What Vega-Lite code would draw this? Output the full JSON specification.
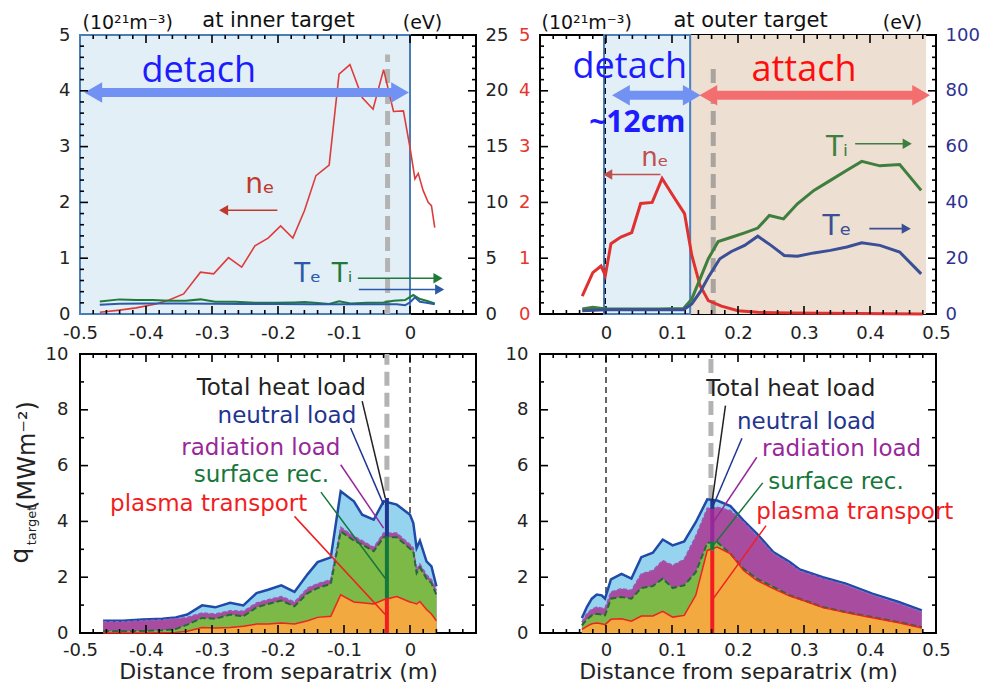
{
"$schema":"https://vega.github.io/schema/vega-lite/v6.json",
"background":"white",
"padding":{"left":6,"top":8,"right":5,"bottom":5},
"columns":2,
"bounds":"flush",
"spacing":{"row":40,"column":64},
"resolve":{"scale":{"color":"independent"}},
"config":{
 "font":"DejaVu Sans",
 "view":{"stroke":"#000000","strokeWidth":2},
 "axis":{"domain":false,"grid":false,"ticks":false,"offset":0,"labelFontSize":18,"labelColor":"#222222","labelFlush":false,"labelOverlap":false,"labelBound":false,"titleFontWeight":"normal","titleColor":"#111111","labelPadding":10}
},
"datasets":{
 "xt_l":[{"v":-0.48,"k":"minor"},{"v":-0.46,"k":"minor"},{"v":-0.44,"k":"minor"},{"v":-0.42,"k":"minor"},{"v":-0.4,"k":"major"},{"v":-0.38,"k":"minor"},{"v":-0.36,"k":"minor"},{"v":-0.34,"k":"minor"},{"v":-0.32,"k":"minor"},{"v":-0.3,"k":"major"},{"v":-0.28,"k":"minor"},{"v":-0.26,"k":"minor"},{"v":-0.24,"k":"minor"},{"v":-0.22,"k":"minor"},{"v":-0.2,"k":"major"},{"v":-0.18,"k":"minor"},{"v":-0.16,"k":"minor"},{"v":-0.14,"k":"minor"},{"v":-0.12,"k":"minor"},{"v":-0.1,"k":"major"},{"v":-0.08,"k":"minor"},{"v":-0.06,"k":"minor"},{"v":-0.04,"k":"minor"},{"v":-0.02,"k":"minor"},{"v":0,"k":"major"},{"v":0.02,"k":"minor"},{"v":0.04,"k":"minor"},{"v":0.06,"k":"minor"},{"v":0.08,"k":"minor"}],
 "xt_r":[{"v":-0.08,"k":"minor"},{"v":-0.06,"k":"minor"},{"v":-0.04,"k":"minor"},{"v":-0.02,"k":"minor"},{"v":0,"k":"major"},{"v":0.02,"k":"minor"},{"v":0.04,"k":"minor"},{"v":0.06,"k":"minor"},{"v":0.08,"k":"minor"},{"v":0.1,"k":"major"},{"v":0.12,"k":"minor"},{"v":0.14,"k":"minor"},{"v":0.16,"k":"minor"},{"v":0.18,"k":"minor"},{"v":0.2,"k":"major"},{"v":0.22,"k":"minor"},{"v":0.24,"k":"minor"},{"v":0.26,"k":"minor"},{"v":0.28,"k":"minor"},{"v":0.3,"k":"major"},{"v":0.32,"k":"minor"},{"v":0.34,"k":"minor"},{"v":0.36,"k":"minor"},{"v":0.38,"k":"minor"},{"v":0.4,"k":"major"},{"v":0.42,"k":"minor"},{"v":0.44,"k":"minor"},{"v":0.46,"k":"minor"},{"v":0.48,"k":"minor"}],
 "yt5":[{"v":0.2,"k":"minor"},{"v":0.4,"k":"minor"},{"v":0.6,"k":"minor"},{"v":0.8,"k":"minor"},{"v":1,"k":"major"},{"v":1.2,"k":"minor"},{"v":1.4,"k":"minor"},{"v":1.6,"k":"minor"},{"v":1.8,"k":"minor"},{"v":2,"k":"major"},{"v":2.2,"k":"minor"},{"v":2.4,"k":"minor"},{"v":2.6,"k":"minor"},{"v":2.8,"k":"minor"},{"v":3,"k":"major"},{"v":3.2,"k":"minor"},{"v":3.4,"k":"minor"},{"v":3.6,"k":"minor"},{"v":3.8,"k":"minor"},{"v":4,"k":"major"},{"v":4.2,"k":"minor"},{"v":4.4,"k":"minor"},{"v":4.6,"k":"minor"},{"v":4.8,"k":"minor"}],
 "yt10":[{"v":1,"k":"minor"},{"v":2,"k":"major"},{"v":3,"k":"minor"},{"v":4,"k":"major"},{"v":5,"k":"minor"},{"v":6,"k":"major"},{"v":7,"k":"minor"},{"v":8,"k":"major"},{"v":9,"k":"minor"}],
 "tl_ne":[{"x":-0.47,"ne":0.03},{"x":-0.44,"ne":0.07},{"x":-0.415,"ne":0.11},{"x":-0.385,"ne":0.18},{"x":-0.365,"ne":0.25},{"x":-0.343,"ne":0.36},{"x":-0.3175,"ne":0.75},{"x":-0.2975,"ne":0.72},{"x":-0.275,"ne":1.01},{"x":-0.255,"ne":0.84},{"x":-0.235,"ne":1.22},{"x":-0.215,"ne":1.36},{"x":-0.196,"ne":1.58},{"x":-0.1775,"ne":1.36},{"x":-0.16,"ne":1.85},{"x":-0.1425,"ne":2.48},{"x":-0.1225,"ne":2.67},{"x":-0.1075,"ne":4.3},{"x":-0.091,"ne":4.47},{"x":-0.0725,"ne":3.88},{"x":-0.056,"ne":3.67},{"x":-0.04,"ne":4.38},{"x":-0.025,"ne":3.63},{"x":-0.01,"ne":3.64},{"x":0,"ne":2.98},{"x":0.0075,"ne":2.42},{"x":0.0125,"ne":2.52},{"x":0.02,"ne":2.21},{"x":0.0275,"ne":2.0},{"x":0.0325,"ne":1.94},{"x":0.0375,"ne":1.55}],
 "tl_T":[{"s":"Ti","x":-0.47,"T":1.13},{"s":"Ti","x":-0.44,"T":1.31},{"s":"Ti","x":-0.415,"T":1.25},{"s":"Ti","x":-0.39,"T":1.25},{"s":"Ti","x":-0.365,"T":1.19},{"s":"Ti","x":-0.34,"T":1.19},{"s":"Ti","x":-0.3175,"T":1.31},{"s":"Ti","x":-0.295,"T":1.1},{"s":"Ti","x":-0.265,"T":1.1},{"s":"Ti","x":-0.235,"T":1.01},{"s":"Ti","x":-0.205,"T":1.01},{"s":"Ti","x":-0.175,"T":1.04},{"s":"Ti","x":-0.16,"T":1.07},{"s":"Ti","x":-0.14,"T":0.98},{"s":"Ti","x":-0.1225,"T":0.9},{"s":"Ti","x":-0.1075,"T":1.13},{"s":"Ti","x":-0.09,"T":0.95},{"s":"Ti","x":-0.065,"T":1.01},{"s":"Ti","x":-0.04,"T":1.04},{"s":"Ti","x":-0.025,"T":1.19},{"s":"Ti","x":-0.0075,"T":1.25},{"s":"Ti","x":0.005,"T":1.7},{"s":"Ti","x":0.015,"T":1.34},{"s":"Ti","x":0.025,"T":1.19},{"s":"Ti","x":0.0375,"T":0.95},
  {"s":"Te","x":-0.47,"T":0.84},{"s":"Te","x":-0.44,"T":0.92},{"s":"Te","x":-0.4,"T":0.95},{"s":"Te","x":-0.35,"T":0.95},{"s":"Te","x":-0.3,"T":0.92},{"s":"Te","x":-0.25,"T":0.9},{"s":"Te","x":-0.2,"T":0.9},{"s":"Te","x":-0.15,"T":0.87},{"s":"Te","x":-0.1,"T":0.87},{"s":"Te","x":-0.05,"T":0.87},{"s":"Te","x":-0.02,"T":0.87},{"s":"Te","x":-0.0075,"T":0.78},{"s":"Te","x":0,"T":1.04},{"s":"Te","x":0.0075,"T":1.49},{"s":"Te","x":0.015,"T":1.1},{"s":"Te","x":0.025,"T":1.01},{"s":"Te","x":0.0375,"T":0.87}],
 "tl_regions":[{"id":"detach","x1":-0.5,"x2":0}],
 "tl_vlines":[{"id":"gray","x":-0.034,"y1":0,"y2":4.65}],
 "tl_arrows":[{"id":"detach","x1":-0.495,"x2":-0.0075,"y":3.97},{"id":"ne","x1":-0.29,"x2":-0.201,"y":1.86},{"id":"Ti","x1":-0.079,"x2":0.05,"y":0.64},{"id":"Te","x1":-0.0775,"x2":0.0525,"y":0.44}],
 "tl_text":[{"id":"detach","label":"detach","x":-0.32,"y":4.15},{"id":"ne","label":"nₑ","x":-0.2275,"y":2.16},{"id":"Te","label":"Tₑ","x":-0.155,"y":0.57},{"id":"Ti","label":"Tᵢ","x":-0.103,"y":0.57}],
 "tr_ne":[{"x":-0.036,"ne":0.32},{"x":-0.02,"ne":0.74},{"x":-0.0075,"ne":0.86},{"x":-0.001,"ne":0.69},{"x":0.0075,"ne":1.26},{"x":0.0225,"ne":1.38},{"x":0.039,"ne":1.46},{"x":0.0525,"ne":1.98},{"x":0.07,"ne":2.0},{"x":0.085,"ne":2.43},{"x":0.1025,"ne":2.1},{"x":0.119,"ne":1.8},{"x":0.13,"ne":1.05},{"x":0.1425,"ne":0.51},{"x":0.155,"ne":0.24},{"x":0.175,"ne":0.14},{"x":0.2,"ne":0.06},{"x":0.23,"ne":0.03},{"x":0.28,"ne":0.02},{"x":0.38,"ne":0.01},{"x":0.48,"ne":0.0}],
 "tr_T":[{"s":"Ti","x":-0.036,"T":1.8},{"s":"Ti","x":-0.02,"T":2.4},{"s":"Ti","x":0,"T":1.8},{"s":"Ti","x":0.03,"T":1.8},{"s":"Ti","x":0.08,"T":1.8},{"s":"Ti","x":0.1175,"T":2.0},{"s":"Ti","x":0.13,"T":5.4},{"s":"Ti","x":0.1425,"T":12.6},{"s":"Ti","x":0.155,"T":19.8},{"s":"Ti","x":0.17,"T":26.0},{"s":"Ti","x":0.19,"T":27.5},{"s":"Ti","x":0.21,"T":29.1},{"s":"Ti","x":0.23,"T":30.8},{"s":"Ti","x":0.2475,"T":35.3},{"s":"Ti","x":0.269,"T":34.1},{"s":"Ti","x":0.29,"T":39.5},{"s":"Ti","x":0.315,"T":44.3},{"s":"Ti","x":0.34,"T":47.9},{"s":"Ti","x":0.365,"T":51.5},{"s":"Ti","x":0.3875,"T":54.7},{"s":"Ti","x":0.415,"T":53.1},{"s":"Ti","x":0.445,"T":53.6},{"s":"Ti","x":0.4775,"T":44.3},
  {"s":"Te","x":-0.036,"T":1.2},{"s":"Te","x":0,"T":1.5},{"s":"Te","x":0.1175,"T":1.5},{"s":"Te","x":0.13,"T":3.6},{"s":"Te","x":0.1425,"T":7.8},{"s":"Te","x":0.155,"T":13.2},{"s":"Te","x":0.1725,"T":19.8},{"s":"Te","x":0.19,"T":22.4},{"s":"Te","x":0.21,"T":24.6},{"s":"Te","x":0.23,"T":27.9},{"s":"Te","x":0.25,"T":24.6},{"s":"Te","x":0.27,"T":21.0},{"s":"Te","x":0.29,"T":20.7},{"s":"Te","x":0.315,"T":21.9},{"s":"Te","x":0.34,"T":22.8},{"s":"Te","x":0.365,"T":24.0},{"s":"Te","x":0.3875,"T":25.5},{"s":"Te","x":0.415,"T":24.6},{"s":"Te","x":0.445,"T":22.2},{"s":"Te","x":0.4775,"T":14.4}],
 "tr_regions":[{"id":"attach","x1":0.1275,"x2":0.485},{"id":"detach","x1":-0.003,"x2":0.1275}],
 "tr_vlines":[{"id":"sep","x":-0.001,"y1":0,"y2":5},{"id":"gray","x":0.1625,"y1":0,"y2":4.43}],
 "tr_arrows":[{"id":"detach","x1":0.0075,"x2":0.1375,"y":3.92},{"id":"attach","x1":0.14,"x2":0.485,"y":3.92},{"id":"ne","x1":-0.005,"x2":0.0825,"y":2.5},{"id":"Ti","x1":0.3775,"x2":0.464,"y":3.05},{"id":"Te","x1":0.399,"x2":0.4625,"y":1.53}],
 "tr_text":[{"id":"detach","label":"detach","x":0.036,"y":4.23},{"id":"attach","label":"attach","x":0.3,"y":4.17},{"id":"width","label":"~12cm","x":0.0475,"y":3.27},{"id":"ne","label":"nₑ","x":0.074,"y":2.66},{"id":"Ti","label":"Tᵢ","x":0.35,"y":2.83},{"id":"Te","label":"Tₑ","x":0.35,"y":1.41}],
 "bl":[{"x":-0.465,"plasma":0.0,"surf":0.06,"rad":0.4,"total":0.44},{"x":-0.435,"plasma":0.0,"surf":0.06,"rad":0.4,"total":0.44},{"x":-0.405,"plasma":0.0,"surf":0.07,"rad":0.44,"total":0.48},{"x":-0.375,"plasma":0.01,"surf":0.1,"rad":0.47,"total":0.51},{"x":-0.355,"plasma":0.02,"surf":0.14,"rad":0.51,"total":0.56},{"x":-0.3375,"plasma":0.06,"surf":0.3,"rad":0.56,"total":0.66},{"x":-0.315,"plasma":0.2,"surf":0.54,"rad":0.72,"total":0.99},{"x":-0.295,"plasma":0.18,"surf":0.51,"rad":0.68,"total":0.92},{"x":-0.2725,"plasma":0.2,"surf":0.66,"rad":0.8,"total":1.08},{"x":-0.2525,"plasma":0.24,"surf":0.6,"rad":0.78,"total":0.99},{"x":-0.2325,"plasma":0.32,"surf":0.92,"rad":1.08,"total":1.43},{"x":-0.215,"plasma":0.32,"surf":1.04,"rad":1.19,"total":1.55},{"x":-0.195,"plasma":0.36,"surf":1.16,"rad":1.31,"total":1.71},{"x":-0.175,"plasma":0.32,"surf":0.96,"rad":1.11,"total":1.47},{"x":-0.155,"plasma":0.44,"surf":1.43,"rad":1.61,"total":2.11},{"x":-0.14,"plasma":0.56,"surf":1.61,"rad":1.77,"total":2.54},{"x":-0.12,"plasma":0.6,"surf":1.76,"rad":1.91,"total":2.71},{"x":-0.105,"plasma":1.37,"surf":3.64,"rad":3.79,"total":5.08},{"x":-0.085,"plasma":1.11,"surf":3.31,"rad":3.46,"total":4.72},{"x":-0.0725,"plasma":1.08,"surf":3.17,"rad":3.31,"total":4.24},{"x":-0.055,"plasma":1.04,"surf":2.93,"rad":3.07,"total":4.06},{"x":-0.04,"plasma":1.19,"surf":3.43,"rad":3.58,"total":4.72},{"x":-0.02,"plasma":1.31,"surf":3.43,"rad":3.58,"total":4.6},{"x":0.0,"plasma":1.11,"surf":3.02,"rad":3.17,"total":4.24},{"x":0.005,"plasma":1.08,"surf":2.93,"rad":3.05,"total":3.94},{"x":0.01,"plasma":1.04,"surf":2.15,"rad":2.27,"total":3.05},{"x":0.015,"plasma":1.13,"surf":2.35,"rad":2.47,"total":3.31},{"x":0.025,"plasma":0.84,"surf":1.95,"rad":2.09,"total":2.57},{"x":0.0325,"plasma":0.68,"surf":1.79,"rad":1.91,"total":2.39},{"x":0.04,"plasma":0.44,"surf":1.37,"rad":1.55,"total":1.67}],
 "bl_vlines":[{"id":"sep","x":0,"y1":0,"y2":10},{"id":"gray","x":-0.035,"y1":5.1,"y2":10}],
 "bl_bars":[{"id":"plasma","x":-0.035,"y1":0,"y2":1.25},{"id":"surface","x":-0.035,"y1":1.25,"y2":3.46},{"id":"neutral","x":-0.035,"y1":3.46,"y2":4.84}],
 "bl_lead":[{"id":"total","x1":-0.0725,"y1":8.31,"x2":-0.0375,"y2":4.84},{"id":"neutral","x1":-0.09,"y1":7.35,"x2":-0.04,"y2":4.6},{"id":"radiation","x1":-0.105,"y1":6.03,"x2":-0.04,"y2":3.76},{"id":"surface","x1":-0.135,"y1":5.05,"x2":-0.035,"y2":1.88},{"id":"plasma","x1":-0.175,"y1":4.18,"x2":-0.0375,"y2":0.66}],
 "bl_text":[{"id":"total","label":"Total heat load","x":-0.195,"y":8.52},{"id":"neutral","label":"neutral load","x":-0.1865,"y":7.53},{"id":"radiation","label":"radiation load","x":-0.226,"y":6.37},{"id":"surface","label":"surface rec.","x":-0.225,"y":5.41},{"id":"plasma","label":"plasma transport","x":-0.305,"y":4.38}],
 "br":[{"x":-0.0365,"plasma":0.13,"surf":0.27,"rad":0.39,"total":0.54},{"x":-0.029,"plasma":0.24,"surf":0.49,"rad":0.69,"total":0.93},{"x":-0.0215,"plasma":0.33,"surf":0.63,"rad":0.85,"total":1.23},{"x":-0.014,"plasma":0.36,"surf":0.69,"rad":0.93,"total":1.38},{"x":-0.0065,"plasma":0.33,"surf":0.66,"rad":0.89,"total":1.35},{"x":-0.0015,"plasma":0.3,"surf":0.63,"rad":0.89,"total":1.23},{"x":0.0075,"plasma":0.49,"surf":1.23,"rad":1.47,"total":1.92},{"x":0.0235,"plasma":0.51,"surf":1.29,"rad":1.59,"total":2.12},{"x":0.0385,"plasma":0.42,"surf":1.23,"rad":1.53,"total":1.95},{"x":0.0535,"plasma":0.61,"surf":1.61,"rad":2.12,"total":2.72},{"x":0.071,"plasma":0.61,"surf":1.68,"rad":2.24,"total":2.88},{"x":0.086,"plasma":0.78,"surf":1.95,"rad":2.6,"total":3.35},{"x":0.101,"plasma":0.57,"surf":1.61,"rad":2.42,"total":3.14},{"x":0.1185,"plasma":0.63,"surf":1.71,"rad":2.64,"total":3.28},{"x":0.136,"plasma":1.35,"surf":2.18,"rad":3.47,"total":3.97},{"x":0.1535,"plasma":2.96,"surf":3.23,"rad":4.47,"total":4.79},{"x":0.1685,"plasma":3.08,"surf":3.26,"rad":4.51,"total":4.75},{"x":0.1885,"plasma":2.84,"surf":2.84,"rad":4.39,"total":4.55},{"x":0.2085,"plasma":2.24,"surf":2.3,"rad":3.97,"total":4.03},{"x":0.2285,"plasma":1.89,"surf":1.95,"rad":3.47,"total":3.56},{"x":0.2535,"plasma":1.59,"surf":1.65,"rad":2.84,"total":2.9},{"x":0.2785,"plasma":1.32,"surf":1.35,"rad":2.48,"total":2.54},{"x":0.2935,"plasma":1.21,"surf":1.23,"rad":2.22,"total":2.28},{"x":0.3285,"plasma":0.91,"surf":0.93,"rad":1.95,"total":2.0},{"x":0.3635,"plasma":0.73,"surf":0.75,"rad":1.71,"total":1.77},{"x":0.4035,"plasma":0.55,"surf":0.57,"rad":1.35,"total":1.41},{"x":0.4435,"plasma":0.37,"surf":0.39,"rad":1.05,"total":1.11},{"x":0.4785,"plasma":0.18,"surf":0.21,"rad":0.75,"total":0.81}],
 "br_vlines":[{"id":"sep","x":0,"y1":0,"y2":10},{"id":"gray","x":0.159,"y1":4.8,"y2":10}],
 "br_bars":[{"id":"plasma","x":0.161,"y1":0,"y2":2.96},{"id":"surface","x":0.161,"y1":2.96,"y2":3.28},{"id":"radiation","x":0.161,"y1":3.28,"y2":4.45},{"id":"neutral","x":0.161,"y1":4.45,"y2":4.8}],
 "br_lead":[{"id":"total","x1":0.181,"y1":8.15,"x2":0.161,"y2":4.75},{"id":"neutral","x1":0.206,"y1":6.98,"x2":0.1625,"y2":4.57},{"id":"radiation","x1":0.2285,"y1":6.3,"x2":0.1625,"y2":3.97},{"id":"surface","x1":0.2375,"y1":5.38,"x2":0.1625,"y2":3.14},{"id":"plasma","x1":0.2425,"y1":3.85,"x2":0.1625,"y2":1.23}],
 "br_text":[{"id":"total","label":"Total heat load","x":0.28,"y":8.51},{"id":"neutral","label":"neutral load","x":0.3035,"y":7.31},{"id":"radiation","label":"radiation load","x":0.357,"y":6.36},{"id":"surface","label":"surface rec.","x":0.3485,"y":5.17},{"id":"plasma","label":"plasma transport","x":0.377,"y":4.09}]
},
"concat":[
 {
  "width":396,"height":279,
  "layer":[
   {"layer":[
    {"data":{"name":"tl_regions"},"mark":{"type":"rect","fill":"#e2eff7","stroke":"#4a7db8","strokeWidth":2},
     "encoding":{"x":{"field":"x1","type":"quantitative","scale":{"domain":[-0.5,0.1]},"axis":null},"x2":{"field":"x2"},"y":{"datum":0,"type":"quantitative","scale":{"domain":[0,5]},"axis":null},"y2":{"datum":5}}},
    {"data":{"name":"tl_vlines"},"mark":{"type":"rule","color":"#b3b3b3","strokeWidth":5,"strokeDash":[14,7]},
     "encoding":{"x":{"field":"x","type":"quantitative","scale":{"domain":[-0.5,0.1]},"axis":null},"y":{"field":"y1","type":"quantitative","scale":{"domain":[0,5]},"axis":null},"y2":{"field":"y2"}}},
    {"data":{"name":"tl_ne"},"mark":{"type":"line","color":"#de3b3b","strokeWidth":1.6},
     "encoding":{"x":{"field":"x","type":"quantitative","scale":{"domain":[-0.5,0.1]},"axis":null},"y":{"field":"ne","type":"quantitative","scale":{"domain":[0,5]},"axis":null}}},
    {"data":{"name":"tl_arrows"},"transform":[{"filter":"datum.id=='detach'"}],"mark":{"type":"rule","strokeWidth":9,"xOffset":10,"x2Offset":-10},
     "encoding":{"x":{"field":"x1","type":"quantitative","scale":{"domain":[-0.5,0.1]},"axis":null},"x2":{"field":"x2"},"y":{"field":"y","type":"quantitative","scale":{"domain":[0,5]},"axis":null},"color":{"field":"id","type":"nominal","scale":{"domain":["detach","Te","Ti"],"range":["#7191f3","#2a5aa8","#1f7a3a"]},"legend":null}}},
    {"data":{"name":"tl_arrows"},"transform":[{"filter":"datum.id=='detach'"}],"mark":{"type":"point","shape":"triangle-left","size":420,"filled":true,"opacity":1,"xOffset":10},
     "encoding":{"x":{"field":"x1","type":"quantitative","scale":{"domain":[-0.5,0.1]},"axis":null},"y":{"field":"y","type":"quantitative","scale":{"domain":[0,5]},"axis":null},"color":{"field":"id","type":"nominal","scale":{"domain":["detach","Te","Ti"],"range":["#7191f3","#2a5aa8","#1f7a3a"]},"legend":null}}},
    {"data":{"name":"tl_arrows"},"transform":[{"filter":"datum.id=='detach' || datum.id=='Te' || datum.id=='Ti'"}],"mark":{"type":"point","shape":"triangle-right","filled":true,"opacity":1},
     "encoding":{"x":{"field":"x2","type":"quantitative","scale":{"domain":[-0.5,0.1]},"axis":null},"y":{"field":"y","type":"quantitative","scale":{"domain":[0,5]},"axis":null},"color":{"field":"id","type":"nominal","scale":{"domain":["detach","Te","Ti"],"range":["#7191f3","#2a5aa8","#1f7a3a"]},"legend":null},"size":{"condition":{"test":"datum.id=='detach'","value":420},"value":110},"xOffset":{"condition":{"test":"datum.id=='detach'","value":-10},"value":-5}}},
    {"data":{"name":"tl_arrows"},"transform":[{"filter":"datum.id=='Te' || datum.id=='Ti'"}],"mark":{"type":"rule","strokeWidth":1.6,"x2Offset":-6},
     "encoding":{"x":{"field":"x1","type":"quantitative","scale":{"domain":[-0.5,0.1]},"axis":null},"x2":{"field":"x2"},"y":{"field":"y","type":"quantitative","scale":{"domain":[0,5]},"axis":null},"color":{"field":"id","type":"nominal","scale":{"domain":["detach","Te","Ti"],"range":["#7191f3","#2a5aa8","#1f7a3a"]},"legend":null}}},
    {"data":{"name":"tl_arrows"},"transform":[{"filter":"datum.id=='ne'"}],"mark":{"type":"rule","strokeWidth":1.6,"color":"#c0392b","xOffset":6},
     "encoding":{"x":{"field":"x1","type":"quantitative","scale":{"domain":[-0.5,0.1]},"axis":null},"x2":{"field":"x2"},"y":{"field":"y","type":"quantitative","scale":{"domain":[0,5]},"axis":null}}},
    {"data":{"name":"tl_arrows"},"transform":[{"filter":"datum.id=='ne'"}],"mark":{"type":"point","shape":"triangle-left","size":110,"filled":true,"opacity":1,"color":"#c0392b","xOffset":5},
     "encoding":{"x":{"field":"x1","type":"quantitative","scale":{"domain":[-0.5,0.1]},"axis":null},"y":{"field":"y","type":"quantitative","scale":{"domain":[0,5]},"axis":null}}},
    {"data":{"name":"tl_text"},"transform":[{"filter":"datum.id=='detach'"}],"mark":{"type":"text","font":"Open Sans","fontSize":36,"color":"#1c1cff","align":"center","baseline":"alphabetic"},
     "encoding":{"x":{"field":"x","type":"quantitative","scale":{"domain":[-0.5,0.1]},"axis":null},"y":{"field":"y","type":"quantitative","scale":{"domain":[0,5]},"axis":null},"text":{"field":"label"}}},
    {"data":{"name":"tl_text"},"transform":[{"filter":"datum.id=='ne'"}],"mark":{"type":"text","fontSize":28,"color":"#c0392b","align":"center","baseline":"alphabetic"},
     "encoding":{"x":{"field":"x","type":"quantitative","scale":{"domain":[-0.5,0.1]},"axis":null},"y":{"field":"y","type":"quantitative","scale":{"domain":[0,5]},"axis":null},"text":{"field":"label"}}},
    {"data":{"name":"tl_text"},"transform":[{"filter":"datum.id=='Te' || datum.id=='Ti'"}],"mark":{"type":"text","fontSize":26,"align":"center","baseline":"alphabetic"},
     "encoding":{"x":{"field":"x","type":"quantitative","scale":{"domain":[-0.5,0.1]},"axis":null},"y":{"field":"y","type":"quantitative","scale":{"domain":[0,5]},"axis":null},"text":{"field":"label"},"color":{"field":"id","type":"nominal","scale":{"domain":["detach","Te","Ti"],"range":["#7191f3","#2a5aa8","#1f7a3a"]},"legend":null}}},
    {"data":{"name":"xt_l"},"mark":{"type":"tick","orient":"vertical","thickness":1.6,"color":"#000000","opacity":1,"clip":true},
     "encoding":{"x":{"field":"v","type":"quantitative","scale":{"domain":[-0.5,0.1]},"axis":null},"y":{"datum":0,"type":"quantitative","scale":{"domain":[0,5]},"axis":null},"size":{"condition":{"test":"datum.k=='major'","value":16},"value":8}}},
    {"data":{"name":"xt_l"},"mark":{"type":"tick","orient":"vertical","thickness":1.6,"color":"#000000","opacity":1,"clip":true},
     "encoding":{"x":{"field":"v","type":"quantitative","scale":{"domain":[-0.5,0.1]},"axis":null},"y":{"datum":5,"type":"quantitative","scale":{"domain":[0,5]},"axis":null},"size":{"condition":{"test":"datum.k=='major'","value":16},"value":8}}},
    {"data":{"name":"yt5"},"mark":{"type":"tick","orient":"horizontal","thickness":1.6,"color":"#000000","opacity":1,"clip":true},
     "encoding":{"y":{"field":"v","type":"quantitative","scale":{"domain":[0,5]},"axis":null},"x":{"datum":-0.5,"type":"quantitative","scale":{"domain":[-0.5,0.1]},"axis":null},"size":{"condition":{"test":"datum.k=='major'","value":16},"value":8}}},
    {"data":{"name":"yt5"},"mark":{"type":"tick","orient":"horizontal","thickness":1.6,"color":"#000000","opacity":1,"clip":true},
     "encoding":{"y":{"field":"v","type":"quantitative","scale":{"domain":[0,5]},"axis":null},"x":{"datum":0.1,"type":"quantitative","scale":{"domain":[-0.5,0.1]},"axis":null},"size":{"condition":{"test":"datum.k=='major'","value":16},"value":8}}}
   ]},
   {"data":{"name":"tl_T"},"mark":{"type":"line","strokeWidth":2},
    "encoding":{"x":{"field":"x","type":"quantitative","scale":{"domain":[-0.5,0.1]},"axis":{"orient":"top","values":[-0.4,-0.3,-0.2,-0.1,0],"labels":false,"title":"at inner target","titleFontSize":21,"titleColor":"#111111","titleAngle":0,"titleAlign":"center","titleBaseline":"alphabetic","titleX":198,"titleY":-9}},
     "y":{"field":"T","type":"quantitative","scale":{"domain":[0,25]},"axis":{"orient":"right","values":[0,5,10,15,20,25],"labelPadding":9,"title":"(eV)","titleFontSize":19,"titleAngle":0,"titleAlign":"center","titleBaseline":"alphabetic","titleX":-54,"titleY":-7}},
     "color":{"field":"s","type":"nominal","scale":{"domain":["detach","Te","Ti"],"range":["#7191f3","#2a5aa8","#1f7a3a"]},"legend":null}}},
   {"data":{"name":"tl_ne"},"mark":{"type":"point","opacity":0},
    "encoding":{"x":{"field":"x","type":"quantitative","scale":{"domain":[-0.5,0.1]},"axis":{"orient":"bottom","values":[-0.5,-0.4,-0.3,-0.2,-0.1,0],"labelExpr":"replace(format(datum.value,'.1~f'),'\u2212','-')","title":null}},
     "y":{"field":"ne","type":"quantitative","scale":{"domain":[0,5]},"axis":{"orient":"left","values":[0,1,2,3,4,5],"format":"d","title":"(10²¹m⁻³)","titleFontSize":19,"titleAngle":0,"titleAlign":"left","titleBaseline":"alphabetic","titleX":2,"titleY":-7}}}}
  ],
  "resolve":{"scale":{"y":"independent"},"axis":{"x":"independent","y":"independent"}}
 },
 {
  "width":396,"height":279,
  "layer":[
   {"layer":[
    {"data":{"name":"tr_regions"},"transform":[{"filter":"datum.id=='attach'"}],"mark":{"type":"rect","fill":"#eddfd1"},
     "encoding":{"x":{"field":"x1","type":"quantitative","scale":{"domain":[-0.1,0.5]},"axis":null},"x2":{"field":"x2"},"y":{"datum":0,"type":"quantitative","scale":{"domain":[0,5]},"axis":null},"y2":{"datum":5}}},
    {"data":{"name":"tr_regions"},"transform":[{"filter":"datum.id=='detach'"}],"mark":{"type":"rect","fill":"#e2eff7","stroke":"#4a7fc0","strokeWidth":2},
     "encoding":{"x":{"field":"x1","type":"quantitative","scale":{"domain":[-0.1,0.5]},"axis":null},"x2":{"field":"x2"},"y":{"datum":0,"type":"quantitative","scale":{"domain":[0,5]},"axis":null},"y2":{"datum":5}}},
    {"data":{"name":"tr_vlines"},"transform":[{"filter":"datum.id=='sep'"}],"mark":{"type":"rule","color":"#000000","strokeWidth":1.2,"strokeDash":[6,4]},
     "encoding":{"x":{"field":"x","type":"quantitative","scale":{"domain":[-0.1,0.5]},"axis":null},"y":{"field":"y1","type":"quantitative","scale":{"domain":[0,5]},"axis":null},"y2":{"field":"y2"}}},
    {"data":{"name":"tr_vlines"},"transform":[{"filter":"datum.id=='gray'"}],"mark":{"type":"rule","color":"#aaa49e","strokeWidth":5,"strokeDash":[14,7]},
     "encoding":{"x":{"field":"x","type":"quantitative","scale":{"domain":[-0.1,0.5]},"axis":null},"y":{"field":"y1","type":"quantitative","scale":{"domain":[0,5]},"axis":null},"y2":{"field":"y2"}}},
    {"data":{"name":"tr_ne"},"mark":{"type":"line","color":"#e03131","strokeWidth":3},
     "encoding":{"x":{"field":"x","type":"quantitative","scale":{"domain":[-0.1,0.5]},"axis":null},"y":{"field":"ne","type":"quantitative","scale":{"domain":[0,5]},"axis":null}}},
    {"data":{"name":"tr_arrows"},"transform":[{"filter":"datum.id=='detach' || datum.id=='attach'"}],"mark":{"type":"rule","strokeWidth":9,"xOffset":10,"x2Offset":-10},
     "encoding":{"x":{"field":"x1","type":"quantitative","scale":{"domain":[-0.1,0.5]},"axis":null},"x2":{"field":"x2"},"y":{"field":"y","type":"quantitative","scale":{"domain":[0,5]},"axis":null},"color":{"field":"id","type":"nominal","scale":{"domain":["detach","attach","Te","Ti"],"range":["#7191f3","#f36f6f","#3a4f96","#3e7e3e"]},"legend":null}}},
    {"data":{"name":"tr_arrows"},"transform":[{"filter":"datum.id=='detach' || datum.id=='attach'"}],"mark":{"type":"point","shape":"triangle-left","size":420,"filled":true,"opacity":1,"xOffset":10},
     "encoding":{"x":{"field":"x1","type":"quantitative","scale":{"domain":[-0.1,0.5]},"axis":null},"y":{"field":"y","type":"quantitative","scale":{"domain":[0,5]},"axis":null},"color":{"field":"id","type":"nominal","scale":{"domain":["detach","attach","Te","Ti"],"range":["#7191f3","#f36f6f","#3a4f96","#3e7e3e"]},"legend":null}}},
    {"data":{"name":"tr_arrows"},"transform":[{"filter":"datum.id!='ne'"}],"mark":{"type":"point","shape":"triangle-right","filled":true,"opacity":1},
     "encoding":{"x":{"field":"x2","type":"quantitative","scale":{"domain":[-0.1,0.5]},"axis":null},"y":{"field":"y","type":"quantitative","scale":{"domain":[0,5]},"axis":null},"color":{"field":"id","type":"nominal","scale":{"domain":["detach","attach","Te","Ti"],"range":["#7191f3","#f36f6f","#3a4f96","#3e7e3e"]},"legend":null},"size":{"condition":{"test":"datum.id=='detach' || datum.id=='attach'","value":420},"value":110},"xOffset":{"condition":{"test":"datum.id=='detach' || datum.id=='attach'","value":-10},"value":-5}}},
    {"data":{"name":"tr_arrows"},"transform":[{"filter":"datum.id=='Te' || datum.id=='Ti'"}],"mark":{"type":"rule","strokeWidth":1.6,"x2Offset":-6},
     "encoding":{"x":{"field":"x1","type":"quantitative","scale":{"domain":[-0.1,0.5]},"axis":null},"x2":{"field":"x2"},"y":{"field":"y","type":"quantitative","scale":{"domain":[0,5]},"axis":null},"color":{"field":"id","type":"nominal","scale":{"domain":["detach","attach","Te","Ti"],"range":["#7191f3","#f36f6f","#3a4f96","#3e7e3e"]},"legend":null}}},
    {"data":{"name":"tr_arrows"},"transform":[{"filter":"datum.id=='ne'"}],"mark":{"type":"rule","strokeWidth":1.6,"color":"#c0504d","xOffset":6},
     "encoding":{"x":{"field":"x1","type":"quantitative","scale":{"domain":[-0.1,0.5]},"axis":null},"x2":{"field":"x2"},"y":{"field":"y","type":"quantitative","scale":{"domain":[0,5]},"axis":null}}},
    {"data":{"name":"tr_arrows"},"transform":[{"filter":"datum.id=='ne'"}],"mark":{"type":"point","shape":"triangle-left","size":110,"filled":true,"opacity":1,"color":"#c0504d","xOffset":5},
     "encoding":{"x":{"field":"x1","type":"quantitative","scale":{"domain":[-0.1,0.5]},"axis":null},"y":{"field":"y","type":"quantitative","scale":{"domain":[0,5]},"axis":null}}},
    {"data":{"name":"tr_text"},"transform":[{"filter":"datum.id=='detach'"}],"mark":{"type":"text","font":"Open Sans","fontSize":36,"color":"#1c1cff","align":"center","baseline":"alphabetic"},
     "encoding":{"x":{"field":"x","type":"quantitative","scale":{"domain":[-0.1,0.5]},"axis":null},"y":{"field":"y","type":"quantitative","scale":{"domain":[0,5]},"axis":null},"text":{"field":"label"}}},
    {"data":{"name":"tr_text"},"transform":[{"filter":"datum.id=='attach'"}],"mark":{"type":"text","font":"Open Sans","fontSize":36,"color":"#ff0d0d","align":"center","baseline":"alphabetic"},
     "encoding":{"x":{"field":"x","type":"quantitative","scale":{"domain":[-0.1,0.5]},"axis":null},"y":{"field":"y","type":"quantitative","scale":{"domain":[0,5]},"axis":null},"text":{"field":"label"}}},
    {"data":{"name":"tr_text"},"transform":[{"filter":"datum.id=='width'"}],"mark":{"type":"text","font":"Open Sans","fontWeight":"bold","fontSize":30,"color":"#1c1cff","align":"center","baseline":"alphabetic"},
     "encoding":{"x":{"field":"x","type":"quantitative","scale":{"domain":[-0.1,0.5]},"axis":null},"y":{"field":"y","type":"quantitative","scale":{"domain":[0,5]},"axis":null},"text":{"field":"label"}}},
    {"data":{"name":"tr_text"},"transform":[{"filter":"datum.id=='ne'"}],"mark":{"type":"text","fontSize":26,"color":"#c0504d","align":"center","baseline":"alphabetic"},
     "encoding":{"x":{"field":"x","type":"quantitative","scale":{"domain":[-0.1,0.5]},"axis":null},"y":{"field":"y","type":"quantitative","scale":{"domain":[0,5]},"axis":null},"text":{"field":"label"}}},
    {"data":{"name":"tr_text"},"transform":[{"filter":"datum.id=='Te' || datum.id=='Ti'"}],"mark":{"type":"text","fontSize":28,"align":"center","baseline":"alphabetic"},
     "encoding":{"x":{"field":"x","type":"quantitative","scale":{"domain":[-0.1,0.5]},"axis":null},"y":{"field":"y","type":"quantitative","scale":{"domain":[0,5]},"axis":null},"text":{"field":"label"},"color":{"field":"id","type":"nominal","scale":{"domain":["detach","attach","Te","Ti"],"range":["#7191f3","#f36f6f","#3a4f96","#3e7e3e"]},"legend":null}}},
    {"data":{"name":"xt_r"},"mark":{"type":"tick","orient":"vertical","thickness":1.6,"color":"#000000","opacity":1,"clip":true},
     "encoding":{"x":{"field":"v","type":"quantitative","scale":{"domain":[-0.1,0.5]},"axis":null},"y":{"datum":0,"type":"quantitative","scale":{"domain":[0,5]},"axis":null},"size":{"condition":{"test":"datum.k=='major'","value":16},"value":8}}},
    {"data":{"name":"xt_r"},"mark":{"type":"tick","orient":"vertical","thickness":1.6,"color":"#000000","opacity":1,"clip":true},
     "encoding":{"x":{"field":"v","type":"quantitative","scale":{"domain":[-0.1,0.5]},"axis":null},"y":{"datum":5,"type":"quantitative","scale":{"domain":[0,5]},"axis":null},"size":{"condition":{"test":"datum.k=='major'","value":16},"value":8}}},
    {"data":{"name":"yt5"},"mark":{"type":"tick","orient":"horizontal","thickness":1.6,"color":"#000000","opacity":1,"clip":true},
     "encoding":{"y":{"field":"v","type":"quantitative","scale":{"domain":[0,5]},"axis":null},"x":{"datum":-0.1,"type":"quantitative","scale":{"domain":[-0.1,0.5]},"axis":null},"size":{"condition":{"test":"datum.k=='major'","value":16},"value":8}}},
    {"data":{"name":"yt5"},"mark":{"type":"tick","orient":"horizontal","thickness":1.6,"color":"#000000","opacity":1,"clip":true},
     "encoding":{"y":{"field":"v","type":"quantitative","scale":{"domain":[0,5]},"axis":null},"x":{"datum":0.5,"type":"quantitative","scale":{"domain":[-0.1,0.5]},"axis":null},"size":{"condition":{"test":"datum.k=='major'","value":16},"value":8}}}
   ]},
   {"data":{"name":"tr_T"},"mark":{"type":"line","strokeWidth":3},
    "encoding":{"x":{"field":"x","type":"quantitative","scale":{"domain":[-0.1,0.5]},"axis":{"orient":"top","values":[0,0.1,0.2,0.3,0.4],"labels":false,"title":"at outer target","titleFontSize":21,"titleColor":"#111111","titleAngle":0,"titleAlign":"center","titleBaseline":"alphabetic","titleX":210,"titleY":-9}},
     "y":{"field":"T","type":"quantitative","scale":{"domain":[0,100]},"axis":{"orient":"right","values":[0,20,40,60,80,100],"labelColor":"#2e3192","labelPadding":9,"title":"(eV)","titleFontSize":19,"titleAngle":0,"titleAlign":"center","titleBaseline":"alphabetic","titleX":-34,"titleY":-7}},
     "color":{"field":"s","type":"nominal","scale":{"domain":["detach","attach","Te","Ti"],"range":["#7191f3","#f36f6f","#3a4f96","#3e7e3e"]},"legend":null}}},
   {"data":{"name":"tr_ne"},"mark":{"type":"point","opacity":0},
    "encoding":{"x":{"field":"x","type":"quantitative","scale":{"domain":[-0.1,0.5]},"axis":{"orient":"bottom","values":[0,0.1,0.2,0.3,0.4,0.5],"format":".1~f","title":null}},
     "y":{"field":"ne","type":"quantitative","scale":{"domain":[0,5]},"axis":{"orient":"left","values":[0,1,2,3,4,5],"format":"d","labelColor":"#e8332e","title":"(10²¹m⁻³)","titleFontSize":19,"titleAngle":0,"titleAlign":"left","titleBaseline":"alphabetic","titleX":1,"titleY":-7}}}}
  ],
  "resolve":{"scale":{"y":"independent"},"axis":{"x":"independent","y":"independent"}}
 },
 {
  "width":396,"height":279,
  "layer":[
   {"layer":[
    {"data":{"name":"bl_vlines"},"transform":[{"filter":"datum.id=='sep'"}],"mark":{"type":"rule","color":"#000000","strokeWidth":1.2,"strokeDash":[6,4]},
     "encoding":{"x":{"field":"x","type":"quantitative","scale":{"domain":[-0.5,0.1]},"axis":null},"y":{"field":"y1","type":"quantitative","scale":{"domain":[0,10]},"axis":null},"y2":{"field":"y2"}}},
    {"data":{"name":"bl_vlines"},"transform":[{"filter":"datum.id=='gray'"}],"mark":{"type":"rule","color":"#b3b3b3","strokeWidth":5,"strokeDash":[14,7]},
     "encoding":{"x":{"field":"x","type":"quantitative","scale":{"domain":[-0.5,0.1]},"axis":null},"y":{"field":"y1","type":"quantitative","scale":{"domain":[0,10]},"axis":null},"y2":{"field":"y2"}}},
    {"data":{"name":"bl"},"mark":{"type":"area","color":"#95d3ef"},
     "encoding":{"x":{"field":"x","type":"quantitative","scale":{"domain":[-0.5,0.1]},"axis":null},"y":{"field":"total","type":"quantitative","scale":{"domain":[0,10]},"axis":null}}},
    {"data":{"name":"bl"},"mark":{"type":"area","color":"#a84c9f"},
     "encoding":{"x":{"field":"x","type":"quantitative","scale":{"domain":[-0.5,0.1]},"axis":null},"y":{"field":"rad","type":"quantitative","scale":{"domain":[0,10]},"axis":null}}},
    {"data":{"name":"bl"},"mark":{"type":"area","color":"#7cb947"},
     "encoding":{"x":{"field":"x","type":"quantitative","scale":{"domain":[-0.5,0.1]},"axis":null},"y":{"field":"surf","type":"quantitative","scale":{"domain":[0,10]},"axis":null}}},
    {"data":{"name":"bl"},"mark":{"type":"area","color":"#f2a93f"},
     "encoding":{"x":{"field":"x","type":"quantitative","scale":{"domain":[-0.5,0.1]},"axis":null},"y":{"field":"plasma","type":"quantitative","scale":{"domain":[0,10]},"axis":null}}},
    {"data":{"name":"bl"},"mark":{"type":"line","color":"#1f4aa8","strokeWidth":2.5},
     "encoding":{"x":{"field":"x","type":"quantitative","scale":{"domain":[-0.5,0.1]},"axis":null},"y":{"field":"total","type":"quantitative","scale":{"domain":[0,10]},"axis":null}}},
    {"data":{"name":"bl"},"mark":{"type":"line","color":"#9b59b6","strokeWidth":1.5,"strokeDash":[4,2]},
     "encoding":{"x":{"field":"x","type":"quantitative","scale":{"domain":[-0.5,0.1]},"axis":null},"y":{"field":"rad","type":"quantitative","scale":{"domain":[0,10]},"axis":null}}},
    {"data":{"name":"bl"},"mark":{"type":"line","color":"#236b36","strokeWidth":2,"strokeDash":[6,3]},
     "encoding":{"x":{"field":"x","type":"quantitative","scale":{"domain":[-0.5,0.1]},"axis":null},"y":{"field":"surf","type":"quantitative","scale":{"domain":[0,10]},"axis":null}}},
    {"data":{"name":"bl"},"mark":{"type":"line","color":"#ee2222","strokeWidth":1.5},
     "encoding":{"x":{"field":"x","type":"quantitative","scale":{"domain":[-0.5,0.1]},"axis":null},"y":{"field":"plasma","type":"quantitative","scale":{"domain":[0,10]},"axis":null}}},
    {"data":{"name":"bl_bars"},"mark":{"type":"rule","strokeWidth":4},
     "encoding":{"x":{"field":"x","type":"quantitative","scale":{"domain":[-0.5,0.1]},"axis":null},"y":{"field":"y1","type":"quantitative","scale":{"domain":[0,10]},"axis":null},"y2":{"field":"y2"},"color":{"field":"id","type":"nominal","scale":{"domain":["total","neutral","radiation","surface","plasma"],"range":["#222222","#1f3590","#98289a","#16773a","#f21d22"]},"legend":null}}},
    {"data":{"name":"bl_lead"},"mark":{"type":"rule","strokeWidth":1.5},
     "encoding":{"x":{"field":"x1","type":"quantitative","scale":{"domain":[-0.5,0.1]},"axis":null},"x2":{"field":"x2"},"y":{"field":"y1","type":"quantitative","scale":{"domain":[0,10]},"axis":null},"y2":{"field":"y2"},"color":{"field":"id","type":"nominal","scale":{"domain":["total","neutral","radiation","surface","plasma"],"range":["#222222","#1f3590","#98289a","#16773a","#f21d22"]},"legend":null}}},
    {"data":{"name":"bl_text"},"mark":{"type":"text","fontSize":23,"align":"center","baseline":"alphabetic"},
     "encoding":{"x":{"field":"x","type":"quantitative","scale":{"domain":[-0.5,0.1]},"axis":null},"y":{"field":"y","type":"quantitative","scale":{"domain":[0,10]},"axis":null},"text":{"field":"label"},"color":{"field":"id","type":"nominal","scale":{"domain":["total","neutral","radiation","surface","plasma"],"range":["#222222","#1f3590","#98289a","#16773a","#f21d22"]},"legend":null}}},
    {"data":{"name":"xt_l"},"mark":{"type":"tick","orient":"vertical","thickness":1.6,"color":"#000000","opacity":1,"clip":true},
     "encoding":{"x":{"field":"v","type":"quantitative","scale":{"domain":[-0.5,0.1]},"axis":null},"y":{"datum":0,"type":"quantitative","scale":{"domain":[0,10]},"axis":null},"size":{"condition":{"test":"datum.k=='major'","value":16},"value":8}}},
    {"data":{"name":"xt_l"},"mark":{"type":"tick","orient":"vertical","thickness":1.6,"color":"#000000","opacity":1,"clip":true},
     "encoding":{"x":{"field":"v","type":"quantitative","scale":{"domain":[-0.5,0.1]},"axis":null},"y":{"datum":10,"type":"quantitative","scale":{"domain":[0,10]},"axis":null},"size":{"condition":{"test":"datum.k=='major'","value":16},"value":8}}},
    {"data":{"name":"yt10"},"mark":{"type":"tick","orient":"horizontal","thickness":1.6,"color":"#000000","opacity":1,"clip":true},
     "encoding":{"y":{"field":"v","type":"quantitative","scale":{"domain":[0,10]},"axis":null},"x":{"datum":-0.5,"type":"quantitative","scale":{"domain":[-0.5,0.1]},"axis":null},"size":{"condition":{"test":"datum.k=='major'","value":16},"value":8}}},
    {"data":{"name":"yt10"},"mark":{"type":"tick","orient":"horizontal","thickness":1.6,"color":"#000000","opacity":1,"clip":true},
     "encoding":{"y":{"field":"v","type":"quantitative","scale":{"domain":[0,10]},"axis":null},"x":{"datum":0.1,"type":"quantitative","scale":{"domain":[-0.5,0.1]},"axis":null},"size":{"condition":{"test":"datum.k=='major'","value":16},"value":8}}}
   ]},
   {"data":{"name":"bl"},"mark":{"type":"point","opacity":0},
    "encoding":{"x":{"field":"x","type":"quantitative","scale":{"domain":[-0.5,0.1]},"axis":{"orient":"bottom","values":[-0.5,-0.4,-0.3,-0.2,-0.1,0],"labelExpr":"replace(format(datum.value,'.1~f'),'\u2212','-')","labelPadding":8,"title":"Distance from separatrix (m)","titleFontSize":22,"titleColor":"#222222","titlePadding":2}},
     "y":{"field":"total","type":"quantitative","scale":{"domain":[0,10]},"axis":{"orient":"left","values":[0,2,4,6,8,10],"labelPadding":12,"title":"(MWm⁻²)","titleFontSize":24,"titleColor":"#222222","titleAngle":270,"titleAlign":"center","titleBaseline":"alphabetic","titleX":-46,"titleY":101}}}},
   {"data":{"name":"bl"},"mark":{"type":"point","opacity":0},
    "encoding":{"x":{"field":"x","type":"quantitative","scale":{"domain":[-0.5,0.1]},"axis":null},
     "y":{"field":"total","type":"quantitative","scale":{"domain":[0,10]},"axis":{"orient":"left","labels":false,"title":"q","titleFontSize":25,"titleColor":"#222222","titleAngle":270,"titleAlign":"center","titleBaseline":"alphabetic","titleX":-53,"titleY":201}}}},
   {"data":{"name":"bl"},"mark":{"type":"point","opacity":0},
    "encoding":{"x":{"field":"x","type":"quantitative","scale":{"domain":[-0.5,0.1]},"axis":null},
     "y":{"field":"total","type":"quantitative","scale":{"domain":[0,10]},"axis":{"orient":"left","labels":false,"title":"target","titleFontSize":13,"titleColor":"#222222","titleAngle":270,"titleAlign":"center","titleBaseline":"alphabetic","titleX":-45,"titleY":171}}}}
  ],
  "resolve":{"axis":{"x":"independent","y":"independent"}}
 },
 {
  "width":396,"height":279,
  "layer":[
   {"layer":[
    {"data":{"name":"br_vlines"},"transform":[{"filter":"datum.id=='sep'"}],"mark":{"type":"rule","color":"#000000","strokeWidth":1.2,"strokeDash":[6,4]},
     "encoding":{"x":{"field":"x","type":"quantitative","scale":{"domain":[-0.1,0.5]},"axis":null},"y":{"field":"y1","type":"quantitative","scale":{"domain":[0,10]},"axis":null},"y2":{"field":"y2"}}},
    {"data":{"name":"br_vlines"},"transform":[{"filter":"datum.id=='gray'"}],"mark":{"type":"rule","color":"#b3b3b3","strokeWidth":5,"strokeDash":[14,7]},
     "encoding":{"x":{"field":"x","type":"quantitative","scale":{"domain":[-0.1,0.5]},"axis":null},"y":{"field":"y1","type":"quantitative","scale":{"domain":[0,10]},"axis":null},"y2":{"field":"y2"}}},
    {"data":{"name":"br"},"mark":{"type":"area","color":"#95d3ef"},
     "encoding":{"x":{"field":"x","type":"quantitative","scale":{"domain":[-0.1,0.5]},"axis":null},"y":{"field":"total","type":"quantitative","scale":{"domain":[0,10]},"axis":null}}},
    {"data":{"name":"br"},"mark":{"type":"area","color":"#a84c9f"},
     "encoding":{"x":{"field":"x","type":"quantitative","scale":{"domain":[-0.1,0.5]},"axis":null},"y":{"field":"rad","type":"quantitative","scale":{"domain":[0,10]},"axis":null}}},
    {"data":{"name":"br"},"mark":{"type":"area","color":"#7cb947"},
     "encoding":{"x":{"field":"x","type":"quantitative","scale":{"domain":[-0.1,0.5]},"axis":null},"y":{"field":"surf","type":"quantitative","scale":{"domain":[0,10]},"axis":null}}},
    {"data":{"name":"br"},"mark":{"type":"area","color":"#f2a93f"},
     "encoding":{"x":{"field":"x","type":"quantitative","scale":{"domain":[-0.1,0.5]},"axis":null},"y":{"field":"plasma","type":"quantitative","scale":{"domain":[0,10]},"axis":null}}},
    {"data":{"name":"br"},"mark":{"type":"line","color":"#1f4aa8","strokeWidth":2.5},
     "encoding":{"x":{"field":"x","type":"quantitative","scale":{"domain":[-0.1,0.5]},"axis":null},"y":{"field":"total","type":"quantitative","scale":{"domain":[0,10]},"axis":null}}},
    {"data":{"name":"br"},"mark":{"type":"line","color":"#9b59b6","strokeWidth":1.5,"strokeDash":[4,2]},
     "encoding":{"x":{"field":"x","type":"quantitative","scale":{"domain":[-0.1,0.5]},"axis":null},"y":{"field":"rad","type":"quantitative","scale":{"domain":[0,10]},"axis":null}}},
    {"data":{"name":"br"},"mark":{"type":"line","color":"#236b36","strokeWidth":2,"strokeDash":[6,3]},
     "encoding":{"x":{"field":"x","type":"quantitative","scale":{"domain":[-0.1,0.5]},"axis":null},"y":{"field":"surf","type":"quantitative","scale":{"domain":[0,10]},"axis":null}}},
    {"data":{"name":"br"},"mark":{"type":"line","color":"#ee2222","strokeWidth":1.5},
     "encoding":{"x":{"field":"x","type":"quantitative","scale":{"domain":[-0.1,0.5]},"axis":null},"y":{"field":"plasma","type":"quantitative","scale":{"domain":[0,10]},"axis":null}}},
    {"data":{"name":"br_bars"},"mark":{"type":"rule","strokeWidth":4},
     "encoding":{"x":{"field":"x","type":"quantitative","scale":{"domain":[-0.1,0.5]},"axis":null},"y":{"field":"y1","type":"quantitative","scale":{"domain":[0,10]},"axis":null},"y2":{"field":"y2"},"color":{"field":"id","type":"nominal","scale":{"domain":["total","neutral","radiation","surface","plasma"],"range":["#222222","#1f3590","#98289a","#16773a","#f21d22"]},"legend":null}}},
    {"data":{"name":"br_lead"},"mark":{"type":"rule","strokeWidth":1.5},
     "encoding":{"x":{"field":"x1","type":"quantitative","scale":{"domain":[-0.1,0.5]},"axis":null},"x2":{"field":"x2"},"y":{"field":"y1","type":"quantitative","scale":{"domain":[0,10]},"axis":null},"y2":{"field":"y2"},"color":{"field":"id","type":"nominal","scale":{"domain":["total","neutral","radiation","surface","plasma"],"range":["#222222","#1f3590","#98289a","#16773a","#f21d22"]},"legend":null}}},
    {"data":{"name":"br_text"},"mark":{"type":"text","fontSize":23,"align":"center","baseline":"alphabetic"},
     "encoding":{"x":{"field":"x","type":"quantitative","scale":{"domain":[-0.1,0.5]},"axis":null},"y":{"field":"y","type":"quantitative","scale":{"domain":[0,10]},"axis":null},"text":{"field":"label"},"color":{"field":"id","type":"nominal","scale":{"domain":["total","neutral","radiation","surface","plasma"],"range":["#222222","#1f3590","#98289a","#16773a","#f21d22"]},"legend":null}}},
    {"data":{"name":"xt_r"},"mark":{"type":"tick","orient":"vertical","thickness":1.6,"color":"#000000","opacity":1,"clip":true},
     "encoding":{"x":{"field":"v","type":"quantitative","scale":{"domain":[-0.1,0.5]},"axis":null},"y":{"datum":0,"type":"quantitative","scale":{"domain":[0,10]},"axis":null},"size":{"condition":{"test":"datum.k=='major'","value":16},"value":8}}},
    {"data":{"name":"xt_r"},"mark":{"type":"tick","orient":"vertical","thickness":1.6,"color":"#000000","opacity":1,"clip":true},
     "encoding":{"x":{"field":"v","type":"quantitative","scale":{"domain":[-0.1,0.5]},"axis":null},"y":{"datum":10,"type":"quantitative","scale":{"domain":[0,10]},"axis":null},"size":{"condition":{"test":"datum.k=='major'","value":16},"value":8}}},
    {"data":{"name":"yt10"},"mark":{"type":"tick","orient":"horizontal","thickness":1.6,"color":"#000000","opacity":1,"clip":true},
     "encoding":{"y":{"field":"v","type":"quantitative","scale":{"domain":[0,10]},"axis":null},"x":{"datum":-0.1,"type":"quantitative","scale":{"domain":[-0.1,0.5]},"axis":null},"size":{"condition":{"test":"datum.k=='major'","value":16},"value":8}}},
    {"data":{"name":"yt10"},"mark":{"type":"tick","orient":"horizontal","thickness":1.6,"color":"#000000","opacity":1,"clip":true},
     "encoding":{"y":{"field":"v","type":"quantitative","scale":{"domain":[0,10]},"axis":null},"x":{"datum":0.5,"type":"quantitative","scale":{"domain":[-0.1,0.5]},"axis":null},"size":{"condition":{"test":"datum.k=='major'","value":16},"value":8}}}
   ]},
   {"data":{"name":"br"},"mark":{"type":"point","opacity":0},
    "encoding":{"x":{"field":"x","type":"quantitative","scale":{"domain":[-0.1,0.5]},"axis":{"orient":"bottom","values":[0,0.1,0.2,0.3,0.4,0.5],"format":".1~f","labelPadding":8,"title":"Distance from separatrix (m)","titleFontSize":22,"titleColor":"#222222","titlePadding":2}},
     "y":{"field":"total","type":"quantitative","scale":{"domain":[0,10]},"axis":{"orient":"left","values":[0,2,4,6,8,10],"labelPadding":12,"title":null}}}}
  ],
  "resolve":{"axis":{"x":"independent","y":"independent"}}
 }
]
}
